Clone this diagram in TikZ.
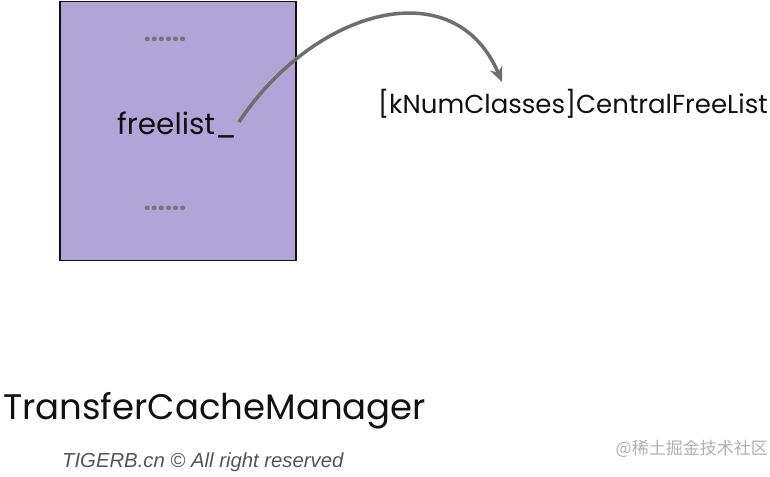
\documentclass[tikz,border=0pt]{standalone}
\usepackage{fontspec}
\setmainfont{Poppins}
\newfontfamily\markfont{Liberation Sans}
\newfontfamily\cjk{Noto Sans CJK SC}
\usetikzlibrary{positioning, calc, arrows.meta}
\definecolor{Lavender}{HTML}{B0A5D6}
\definecolor{Ink}{HTML}{111111}
\definecolor{Wire}{HTML}{6E6E6E}
\definecolor{Dots}{HTML}{777777}
\definecolor{Mark}{HTML}{555555}
\definecolor{Faint}{HTML}{B0B0B0}
\tikzset{
    structbox/.style={rectangle, draw=Ink, line width=1.6pt, fill=Lavender, minimum width=236pt, minimum height=259pt, inner sep=0pt},
    fieldtext/.style={text=Ink, font=\fontsize{29.5}{30}\selectfont, inner sep=0pt},
    gaptext/.style={text=Dots, font=\fontsize{25}{25}\selectfont\bfseries, inner sep=0pt},
    plaintext/.style={text=Ink, font=\fontsize{26}{28}\selectfont, inner sep=0pt},
    titletext/.style={text=Ink, font=\fontsize{35.5}{38}\selectfont, inner sep=0pt},
    pointer/.style={-{Stealth[length=15pt, width=13pt]}, line width=3.5pt, color=Wire},
}

\begin{document}
\begin{tikzpicture}[x=1pt, y=-1pt]
        \useasboundingbox (0,0) rectangle (770,476);
        % Struct
        \node[structbox] (tcm) at (178,131) {};
        \node[gaptext] (topgap) at (165,39) {......};
        \node[fieldtext] (fl) at (177,125) {freelist\_};
        \node[gaptext] (botgap) at (165,208) {......};

        % Target
        \node[plaintext, anchor=west] (cfl) at (378,104) {[kNumClasses]CentralFreeList};
        \coordinate (tip) at (502,82);
        \draw[pointer] ($(fl.east)+(2,-3)$) .. controls (315,8) and (455,-30) .. (tip);

        % Labels
        \node[titletext, anchor=west] (title) at (3,411) {TransferCacheManager};
        \node[text=Mark, font=\markfont\itshape\fontsize{20.3}{21}\selectfont, anchor=west, inner sep=0pt] (credit) at (62,462) {TIGERB.cn © All right reserved};
        \node[text=Faint, font=\cjk\fontsize{17}{18}\selectfont, anchor=east, inner sep=0pt] (site) at (768,449) {@稀土掘金技术社区};
    \end{tikzpicture}
\end{document}
